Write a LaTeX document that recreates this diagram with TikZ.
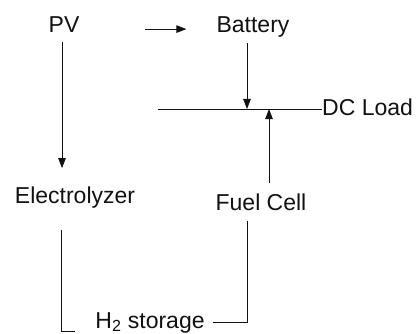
\documentclass[tikz,border=0pt]{standalone}
\usepackage{fontspec}
\setmainfont{Liberation Sans}
\usepackage{tikz}
\usetikzlibrary{arrows.meta,positioning,calc}
\definecolor{ink}{HTML}{111111}
\tikzset{
  lbl/.style={inner sep=0pt, anchor=base, font=\fontsize{23}{27}\selectfont, text=ink},
  flow/.style={-{Triangle[length=10pt,width=7.5pt]}, line width=0.8pt, draw=ink},
  link/.style={line width=0.8pt, draw=ink},
}
\begin{document}
\begin{tikzpicture}[x=1pt,y=-1pt]
  \useasboundingbox (0,0) rectangle (417,334);
  % sources and stores
  \node[lbl](pv) at (64,33){PV};
  \node[lbl](bat) at (253,33){Battery};
  \node[lbl](elec) at (75,203){Electrolyzer};
  \node[lbl](fc) at (261,210){Fuel Cell};
  \node[lbl](h2) at (150,328){H\textsubscript{2} storage};
  % dc bus
  \node[lbl,anchor=base west](dc) at (322,115){DC Load};
  \coordinate (busL) at (158,109);
  \coordinate (tapB) at (247,109);
  \coordinate (tapF) at (269,109);
  \coordinate (elbow) at (61,331);
  \draw[link] (busL) -- (busL -| dc.west);
  % arrows
  \draw[flow,shorten <=65pt,shorten >=30pt] ([yshift=-4pt]pv.east) -- ([yshift=-4pt]pv.east -| bat.west);
  \draw[flow,shorten <=5pt] (tapB |- bat.south) -- (tapB);
  \draw[flow,shorten <=10pt] (tapF |- fc.north) -- (tapF);
  \draw[flow,shorten <=9pt,shorten >=18pt] ([xshift=-2pt]pv.south) -- ([xshift=-2pt]pv.south |- elec.north);
  % hydrogen path
  \draw[link,shorten <=22pt,shorten >=20pt] (elbow |- elec.south) -- (elbow) -- (elbow -| h2.west);
  \draw[link,shorten <=8pt,shorten >=11pt] (h2.east) -| (tapB |- fc.south);
\end{tikzpicture}
\end{document}
